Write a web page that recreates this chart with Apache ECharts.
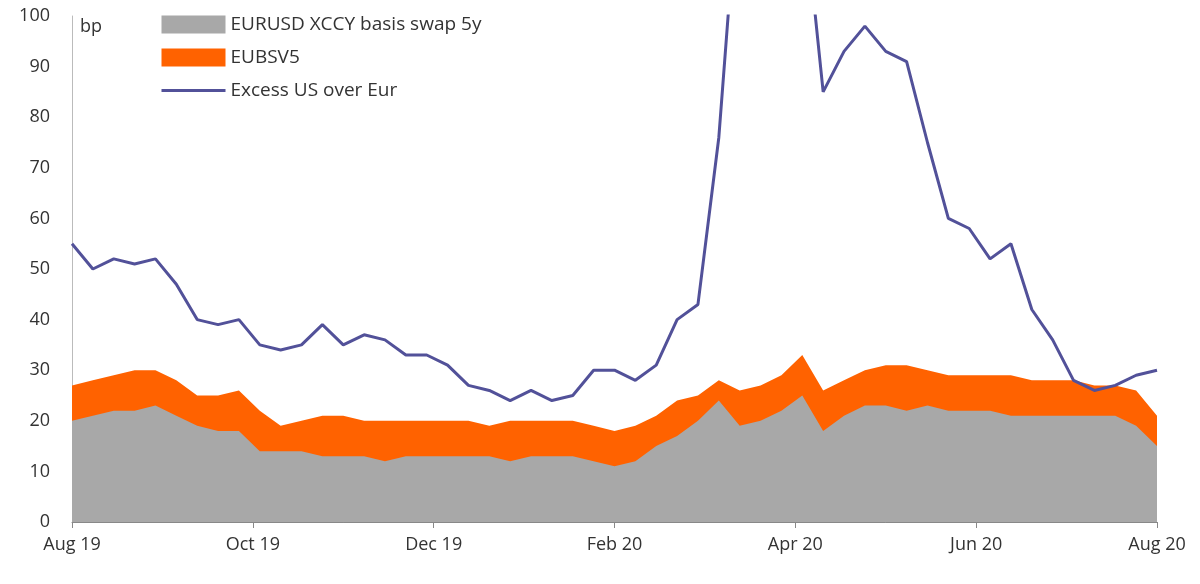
<!DOCTYPE html>
<html><head><meta charset="utf-8">
<script src="https://cdn.jsdelivr.net/npm/echarts@6/dist/echarts.min.js"></script>
<style>html,body{margin:0;padding:0;background:#fff}#c{width:1200px;height:584px}</style>
</head><body><div id="c"></div>
<script>
// weekly readings, Aug 2019 - Aug 2020
var xccy = [20,21,22,22,23,21,19,18,18,14,14,14,13,13,13,12,13,13,13,13,13,12,13,13,13,12,11,12,15,17,20,24,19,20,22,25,18,21,23,23,22,23,22,22,22,21,21,21,21,21,21,19,15];
var eubsv5 = [27,28,29,30,30,28,25,25,26,22,19,20,21,21,20,20,20,20,20,20,19,20,20,20,20,19,18,19,21,24,25,28,26,27,29,33,26,28,30,31,31,30,29,29,29,29,28,28,28,27,27,26,21];
var excess = [55,50,52,51,52,47,40,39,40,35,34,35,39,35,37,36,33,33,31,27,26,24,26,24,25,30,30,28,31,40,43,76,130,140,135,125,85,93,98,93,91,75,60,58,52,55,42,36,28,26,27,29,30];
var tickLabels = ['Aug 19','Oct 19','Dec 19','Feb 20','Apr 20','Jun 20','Aug 20'];
var totalDays = 366;

function pts(arr){ return arr.map(function(v,i){ return [i*totalDays/(arr.length-1), v]; }); }

var chart = echarts.init(document.getElementById('c'));
var font = 'Open Sans';
chart.setOption({
  animation:false,
  textStyle:{fontFamily:font},
  grid:{left:72,right:43,top:16,bottom:62},
  legend:{orient:'vertical',left:155,top:10,itemGap:14,itemWidth:64,itemHeight:18,
    textStyle:{fontSize:19,color:'#333',fontFamily:font},
    data:[{name:'EURUSD XCCY basis swap 5y',icon:'rect'},{name:'EUBSV5',icon:'rect'},
      {name:'Excess US over Eur',itemStyle:{opacity:0},lineStyle:{width:3}}]},
  graphic:[{type:'text',left:80,top:18,style:{text:'bp',fontSize:18,fill:'#333',fontFamily:font}}],
  xAxis:{type:'value',min:0,max:totalDays,interval:61,
    axisLine:{lineStyle:{color:'#888'}},axisTick:{lineStyle:{color:'#888'},length:6},splitLine:{show:false},
    axisLabel:{fontSize:18,color:'#333',margin:14,formatter:function(v){return tickLabels[Math.round(v/61)]||'';}}},
  yAxis:{type:'value',min:0,max:100,interval:10,
    axisLine:{show:true,lineStyle:{color:'#bbb'}},axisTick:{show:false},splitLine:{show:false},
    axisLabel:{fontSize:18,color:'#333',margin:22}},
  series:[
    {name:'EUBSV5',type:'line',data:pts(eubsv5),symbol:'none',lineStyle:{width:0},
      itemStyle:{color:'#ff6200'},areaStyle:{color:'#ff6200',opacity:1},z:1},
    {name:'EURUSD XCCY basis swap 5y',type:'line',data:pts(xccy),symbol:'none',lineStyle:{width:0},
      itemStyle:{color:'#a8a8a8'},areaStyle:{color:'#a8a8a8',opacity:1},z:2},
    {name:'Excess US over Eur',type:'line',data:pts(excess),symbol:'none',clip:true,
      itemStyle:{color:'#525199'},lineStyle:{color:'#525199',width:3},z:3}
  ]
});
</script></body></html>
